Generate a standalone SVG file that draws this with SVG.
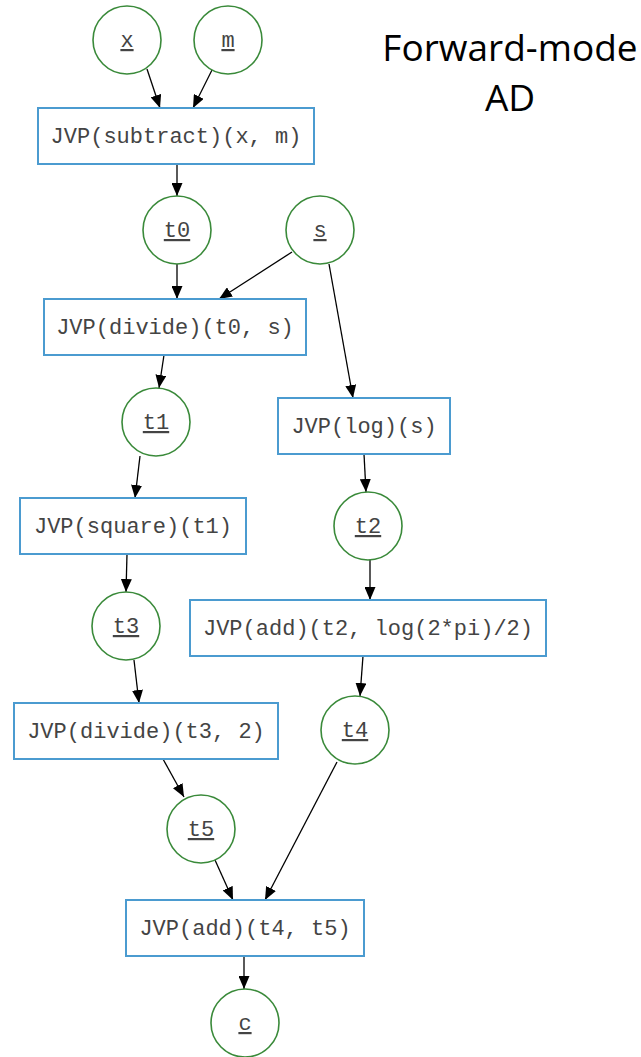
<svg xmlns="http://www.w3.org/2000/svg" width="641" height="1057" viewBox="0 0 641 1057">
  <defs>
    <marker id="arrow" viewBox="0 0 13 11" refX="13" refY="5.5" markerWidth="13" markerHeight="11" markerUnits="userSpaceOnUse" orient="auto">
      <path d="M0,0 L13,5.5 L0,11 Z" fill="#000"/>
    </marker>
    <style>
      .var circle { fill: #fff; stroke: #3a8a3a; stroke-width: 1.6; }
      .var text { font-family: "Liberation Mono", monospace; font-size: 22px; fill: #444; text-anchor: middle; text-decoration: underline; }
      .op rect { fill: #fff; stroke: #4b9bd0; stroke-width: 2; }
      .op text { font-family: "Liberation Mono", monospace; font-size: 22px; fill: #444; text-anchor: middle; }
      .edges line { stroke: #000; stroke-width: 1.3; marker-end: url(#arrow); }
      .title { font-family: "Open Sans", "Liberation Sans", sans-serif; font-size: 37px; fill: #000; text-anchor: middle; }
    </style>
  </defs>
  <rect width="641" height="1057" fill="#fff"/>

  <text class="title" x="510" y="61">Forward-mode</text>
  <text class="title" x="510" y="111">AD</text>

  <g class="edges">
    <line x1="147" y1="69" x2="160" y2="108"/>
    <line x1="212" y1="70" x2="193" y2="108"/>
    <line x1="177" y1="164" x2="177" y2="196"/>
    <line x1="177" y1="264" x2="177" y2="299"/>
    <line x1="292" y1="252" x2="219" y2="299"/>
    <line x1="329" y1="264" x2="353" y2="398"/>
    <line x1="164" y1="355" x2="159" y2="388"/>
    <line x1="364" y1="454" x2="366" y2="492"/>
    <line x1="140" y1="456" x2="135" y2="498"/>
    <line x1="370" y1="560" x2="370" y2="600"/>
    <line x1="127" y1="554" x2="126" y2="592"/>
    <line x1="363" y1="656" x2="360" y2="696"/>
    <line x1="134" y1="660" x2="139" y2="703"/>
    <line x1="163" y1="759" x2="184" y2="797"/>
    <line x1="337" y1="762" x2="265" y2="900"/>
    <line x1="215" y1="860" x2="233" y2="900"/>
    <line x1="244" y1="956" x2="244" y2="989"/>
  </g>

  <g id="x" class="var"><circle cx="127" cy="40" r="34"/><text x="127" y="47">x</text></g>
  <g id="m" class="var"><circle cx="228" cy="40" r="34"/><text x="228" y="47">m</text></g>
  <g id="op-subtract" class="op"><rect x="38" y="108" width="276" height="56"/><text x="176" y="143">JVP(subtract)(x, m)</text></g>
  <g id="t0" class="var"><circle cx="177" cy="230" r="34"/><text x="177" y="237">t0</text></g>
  <g id="s" class="var"><circle cx="320" cy="230" r="34"/><text x="320" y="237">s</text></g>
  <g id="op-divide1" class="op"><rect x="44" y="299" width="262" height="56"/><text x="175" y="334">JVP(divide)(t0, s)</text></g>
  <g id="t1" class="var"><circle cx="156" cy="422" r="34"/><text x="156" y="429">t1</text></g>
  <g id="op-log" class="op"><rect x="278" y="398" width="172" height="56"/><text x="364" y="433">JVP(log)(s)</text></g>
  <g id="t2" class="var"><circle cx="368" cy="526" r="34"/><text x="368" y="533">t2</text></g>
  <g id="op-square" class="op"><rect x="20" y="498" width="226" height="56"/><text x="133" y="533">JVP(square)(t1)</text></g>
  <g id="t3" class="var"><circle cx="126" cy="626" r="34"/><text x="126" y="633">t3</text></g>
  <g id="op-add1" class="op"><rect x="190" y="600" width="356" height="56"/><text x="368" y="635">JVP(add)(t2, log(2*pi)/2)</text></g>
  <g id="t4" class="var"><circle cx="355" cy="730" r="34"/><text x="355" y="737">t4</text></g>
  <g id="op-divide2" class="op"><rect x="14" y="703" width="264" height="56"/><text x="146" y="738">JVP(divide)(t3, 2)</text></g>
  <g id="t5" class="var"><circle cx="201" cy="829" r="34"/><text x="201" y="836">t5</text></g>
  <g id="op-add2" class="op"><rect x="126" y="900" width="238" height="56"/><text x="245" y="935">JVP(add)(t4, t5)</text></g>
  <g id="c" class="var"><circle cx="245" cy="1023" r="34"/><text x="245" y="1030">c</text></g>
</svg>
